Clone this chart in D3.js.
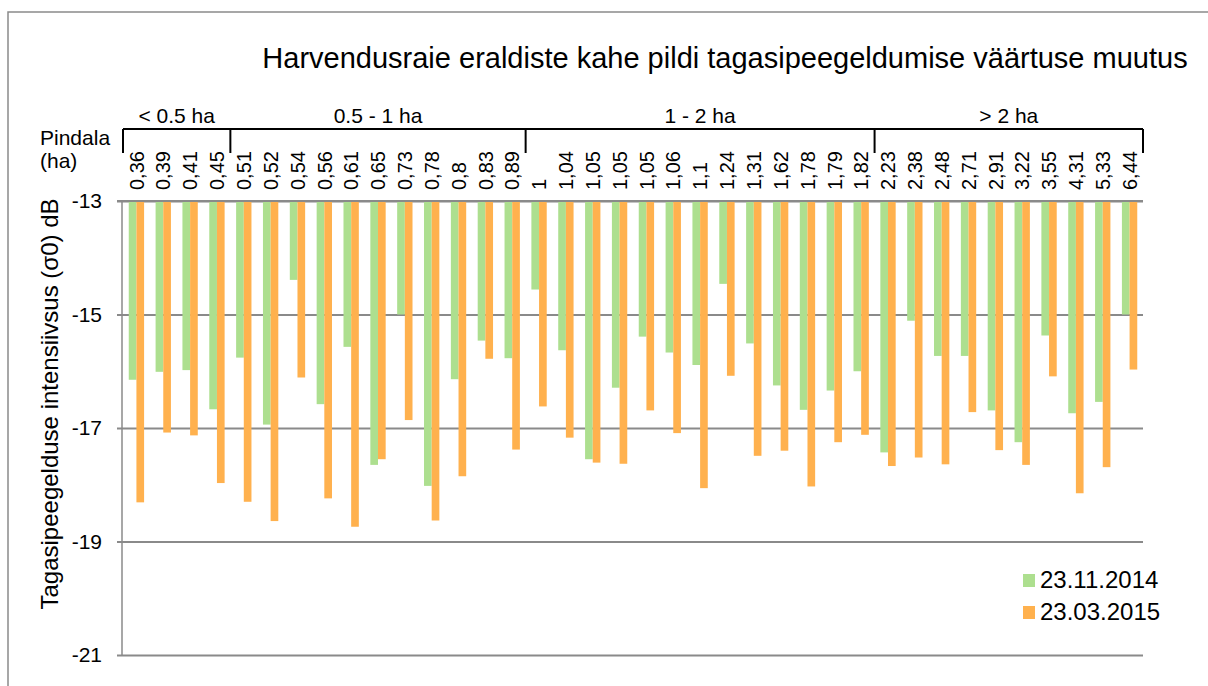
<!DOCTYPE html>
<html>
<head>
<meta charset="utf-8">
<script src="https://cdn.jsdelivr.net/npm/d3@7"></script>
<style>
  html, body { margin: 0; padding: 0; background: #fff; }
  svg { display: block; font-family: "Liberation Sans", Arial, sans-serif; }
</style>
</head>
<body>
<svg id="chart" width="1208" height="686"></svg>
<script>
// category labels (area, ha) -- note duplicates, so bands are keyed by index
const categories = ['0,36', '0,39', '0,41', '0,45', '0,51', '0,52', '0,54', '0,56', '0,61', '0,65',
  '0,73', '0,78', '0,8', '0,83', '0,89', '1', '1,04', '1,05', '1,05', '1,05', '1,06', '1,1', '1,24',
  '1,31', '1,62', '1,78', '1,79', '1,82', '2,23', '2,38', '2,48', '2,71', '2,91', '3,22', '3,55',
  '4,31', '5,33', '6,44'];

const seriesNames = ['23.11.2014', '23.03.2015'];

const nov2014 = [-16.15, -16.01, -15.98, -16.67, -15.76, -16.94, -14.39, -16.58, -15.57, -17.65,
  -15.00, -18.02, -16.14, -15.46, -15.77, -14.56, -15.63, -17.55, -16.29, -15.39, -15.67, -15.89,
  -14.46, -15.51, -16.25, -16.68, -16.34, -16.00, -17.43, -15.11, -15.73, -15.73, -16.69, -17.25,
  -15.37, -16.74, -16.54, -15.00];

const mar2015 = [-18.31, -17.08, -17.13, -17.97, -18.30, -18.64, -16.11, -18.24, -18.74, -17.55,
  -16.86, -18.63, -17.85, -15.78, -17.38, -16.62, -17.17, -17.61, -17.63, -16.69, -17.09, -18.06,
  -16.08, -17.49, -17.40, -18.03, -17.25, -17.12, -17.67, -17.52, -17.64, -16.72, -17.39, -17.65,
  -16.09, -18.15, -17.69, -15.97];

const groupLabels = ['< 0.5 ha', '0.5 - 1 ha', '1 - 2 ha', '> 2 ha'];
const groupSizes = [4, 11, 13, 10];

const yTicks = [-13, -15, -17, -19, -21];

const colors = ['#addf8f', '#ffb14e'];

const svg = d3.select('#chart');
const W = 1208, H = 686;
const plot = {left: 123, right: 1143, top: 201, bottom: 655};

// outer chart border (runs past the right/bottom edge of the picture)
svg.append('rect')
  .attr('x', 8).attr('y', 12)
  .attr('width', W + 10).attr('height', H + 10)
  .attr('fill', 'none')
  .attr('stroke', '#8a8a8a')
  .attr('stroke-width', 1.5);

const xscale = d3.scaleBand()
  .domain(d3.range(categories.length))
  .range([plot.left, plot.right]);

const xinner = d3.scaleBand()
  .domain([0, 1])
  .range([0, xscale.bandwidth()])
  .paddingOuter(0.75);

const yscale = d3.scaleLinear()
  .domain([-21, -13])
  .range([plot.bottom, plot.top]);

// gridlines + y axis
const axisY = d3.axisLeft(yscale)
  .tickValues(yTicks)
  .tickSize(-(plot.right - plot.left))
  .tickPadding(21)
  .tickFormat(d => d);
const gy = svg.append('g')
  .attr('transform', `translate(${plot.left},0)`)
  .call(axisY);
gy.select('.domain').remove();
gy.selectAll('.tick line')
  .attr('x1', -6)
  .attr('stroke', '#8a8a8a')
  .attr('stroke-width', 2);
gy.selectAll('.tick text')
  .attr('font-size', 21)
  .attr('fill', '#000')
  .style('font-family', '"Liberation Sans", Arial, sans-serif');

svg.append('line')
  .attr('x1', plot.left - 1).attr('x2', plot.left - 1)
  .attr('y1', plot.top).attr('y2', plot.bottom)
  .attr('stroke', '#8a8a8a')
  .attr('stroke-width', 1.5);

// bars hang down from -13
const rows = [nov2014, mar2015];
const bars = [];
rows.forEach((vals, s) => vals.forEach((v, i) => bars.push({i, s, v})));

svg.append('g').selectAll('rect')
  .data(bars)
  .enter()
  .append('rect')
  .attr('x', d => xscale(d.i) + xinner(d.s))
  .attr('width', xinner.bandwidth())
  .attr('y', yscale(-13))
  .attr('height', d => yscale(d.v) - yscale(-13))
  .attr('fill', d => colors[d.s]);

// redraw the -13 line over the bars
svg.append('line')
  .attr('x1', plot.left - 6).attr('x2', plot.right)
  .attr('y1', yscale(-13)).attr('y2', yscale(-13))
  .attr('stroke', '#8a8a8a')
  .attr('stroke-width', 2);

// category labels, rotated
svg.append('g').selectAll('text')
  .data(categories)
  .enter()
  .append('text')
  .attr('transform', (d, i) =>
    `translate(${xscale(i) + xscale.bandwidth() / 2},190) rotate(-90)`)
  .attr('dy', '0.36em')
  .attr('font-size', 20)
  .text(d => d);

svg.append('text').attr('x', 40).attr('y', 145).attr('font-size', 21).text('Pindala');
svg.append('text').attr('x', 40).attr('y', 168).attr('font-size', 21).text('(ha)');

// group brackets
const bracketY = 129;
let start = 0;
const groups = groupLabels.map((label, k) => {
  const g = {label, from: start, to: start + groupSizes[k] - 1};
  start += groupSizes[k];
  return g;
});
const edges = [xscale(0)].concat(groups.map(g => xscale(g.to) + xscale.bandwidth()));

const gb = svg.append('g');
gb.append('line')
  .attr('x1', edges[0]).attr('x2', edges[edges.length - 1])
  .attr('y1', bracketY).attr('y2', bracketY)
  .attr('stroke', '#000').attr('stroke-width', 2);
gb.selectAll('.tickmark')
  .data(edges)
  .enter()
  .append('line')
  .attr('x1', d => d).attr('x2', d => d)
  .attr('y1', bracketY).attr('y2', bracketY + 24)
  .attr('stroke', '#000').attr('stroke-width', 2);
gb.selectAll('.grouplabel')
  .data(groups)
  .enter()
  .append('text')
  .attr('x', g => (xscale(g.from) + xscale(g.to) + xscale.bandwidth()) / 2)
  .attr('y', 123)
  .attr('text-anchor', 'middle')
  .attr('font-size', 21)
  .text(g => g.label);

// title
svg.append('text')
  .attr('x', 725).attr('y', 68)
  .attr('text-anchor', 'middle')
  .attr('font-size', 29)
  .text('Harvendusraie eraldiste kahe pildi tagasipeegeldumise väärtuse muutus');

// y axis title
svg.append('text')
  .attr('transform', 'translate(58,404) rotate(-90)')
  .attr('text-anchor', 'middle')
  .attr('font-size', 24)
  .text('Tagasipeegelduse intensiivsus (σ0) dB');

// legend
const lg = svg.append('g').attr('transform', 'translate(1023,574)');
const li = lg.selectAll('g')
  .data(seriesNames)
  .enter()
  .append('g')
  .attr('transform', (d, i) => `translate(0,${i * 32})`);
li.append('rect')
  .attr('width', 12).attr('height', 13)
  .attr('fill', (d, i) => colors[i]);
li.append('text')
  .attr('x', 17).attr('y', 14)
  .attr('font-size', 24)
  .text(d => d);
</script>
</body>
</html>
